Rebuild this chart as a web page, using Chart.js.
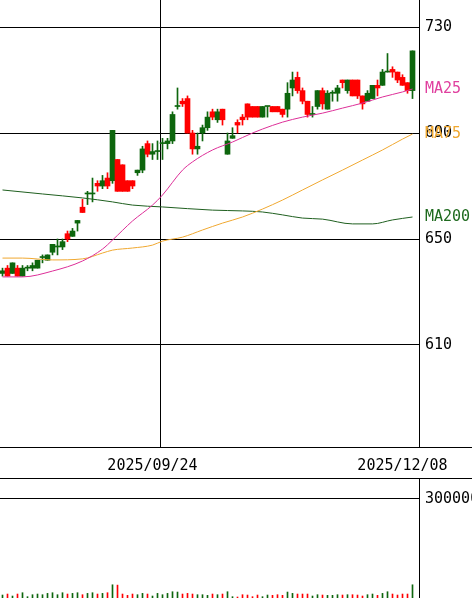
<!DOCTYPE html>
<html>
<head>
<meta charset="utf-8">
<script src="https://cdn.jsdelivr.net/npm/chart.js@4.4.1/dist/chart.umd.min.js"></script>
<style>
  body { margin: 0; background: #fff; }
  canvas { display: block; }
</style>
</head>
<body>
<canvas id="priceChart" width="472" height="479"></canvas>
<canvas id="volumeChart" width="472" height="119"></canvas>
<script>
// trading days shown on the daily chart
const dates = [
    "2025/08/08", "2025/08/12", "2025/08/13", "2025/08/14", "2025/08/15", "2025/08/18", "2025/08/19", "2025/08/20", "2025/08/21", "2025/08/22",
    "2025/08/25", "2025/08/26", "2025/08/27", "2025/08/28", "2025/08/29", "2025/09/01", "2025/09/02", "2025/09/03", "2025/09/04", "2025/09/05",
    "2025/09/08", "2025/09/09", "2025/09/10", "2025/09/11", "2025/09/12", "2025/09/16", "2025/09/17", "2025/09/18", "2025/09/19", "2025/09/22",
    "2025/09/24", "2025/09/25", "2025/09/26", "2025/09/29", "2025/09/30", "2025/10/01", "2025/10/02", "2025/10/03", "2025/10/06", "2025/10/07",
    "2025/10/08", "2025/10/09", "2025/10/10", "2025/10/14", "2025/10/15", "2025/10/16", "2025/10/17", "2025/10/20", "2025/10/21", "2025/10/22",
    "2025/10/23", "2025/10/24", "2025/10/27", "2025/10/28", "2025/10/29", "2025/10/30", "2025/10/31", "2025/11/04", "2025/11/05", "2025/11/06",
    "2025/11/07", "2025/11/10", "2025/11/11", "2025/11/12", "2025/11/13", "2025/11/14", "2025/11/17", "2025/11/18", "2025/11/19", "2025/11/20",
    "2025/11/21", "2025/11/25", "2025/11/26", "2025/11/27", "2025/11/28", "2025/12/01", "2025/12/02", "2025/12/03", "2025/12/04", "2025/12/05",
    "2025/12/08", "2025/12/09", "2025/12/10",
];

const opens = [
    637, 639, 637, 639, 636, 639, 639, 639, 643, 642,
    645, 647, 647, 652, 651, 656, 662, 667, 667, 671,
    670, 673, 672, 680, 678, 672, 672, 675, 676, 686,
    682, 683, 686, 686, 687, 700, 702, 703, 690, 684,
    690, 692, 698, 695, 699, 682, 688, 694, 696, 701,
    700, 700, 696, 700, 700, 700, 699, 699, 707, 711,
    706, 702, 697, 700, 706, 699, 705, 705, 710, 706,
    710, 710, 704, 702, 703, 708, 708, 713, 714, 713,
    711, 709, 706,
];
const highs = [
    639, 640, 641, 640, 640, 640, 641, 642, 644, 644,
    648, 650, 650, 653, 654, 657, 665, 668, 673, 672,
    674, 675, 691, 680, 678, 672, 672, 676, 685, 687,
    686, 687, 688, 688, 698, 707, 703, 704, 691, 690,
    693, 698, 699, 699, 699, 690, 692, 695, 697, 701,
    700, 700, 700, 700, 700, 700, 699, 709, 713, 713,
    707, 702, 700, 706, 707, 706, 706, 708, 710, 710,
    710, 710, 704, 706, 708, 710, 714, 720, 715, 713,
    712, 709, 721,
];
const lows = [
    636, 636, 637, 636, 636, 638, 638, 639, 641, 642,
    644, 644, 646, 649, 651, 653, 660, 663, 664, 668,
    669, 669, 671, 668, 668, 668, 669, 674, 675, 681,
    680, 680, 680, 684, 686, 699, 700, 690, 682, 682,
    687, 691, 695, 694, 693, 682, 688, 690, 693, 695,
    696, 696, 696, 696, 698, 698, 696, 696, 704, 705,
    701, 696, 696, 699, 699, 699, 702, 702, 707, 705,
    704, 703, 699, 702, 703, 704, 708, 713, 711, 709,
    708, 705, 703,
];
const closes = [
    638, 636, 641, 636, 639, 639, 640, 642, 643, 644,
    648, 647, 649, 650, 653, 657, 660, 667, 667, 670,
    672, 670, 691, 668, 668, 668, 670, 676, 684, 682,
    683, 683, 686, 687, 697, 700, 701, 690, 684, 685,
    692, 696, 696, 698, 695, 687, 689, 693, 695, 696,
    696, 696, 700, 700, 698, 698, 697, 705, 710, 706,
    702, 697, 697, 706, 701, 705, 705, 707, 709, 710,
    704, 704, 701, 705, 708, 707, 713, 713, 713, 710,
    708, 706, 721,
];
const volumes = [
    9000, 12000, 6000, 12000, 16000, 4000, 10000, 12000, 10000, 14000,
    16000, 10000, 16000, 12000, 14000, 16000, 10000, 14000, 16000, 12000,
    14000, 16000, 40000, 39000, 12000, 8000, 12000, 10000, 14000, 12000,
    6000, 14000, 10000, 14000, 19000, 18000, 12000, 14000, 12000, 10000,
    10000, 8000, 12000, 10000, 12000, 19000, 4000, 3000, 10000, 9000,
    4000, 9000, 4000, 9000, 8000, 10000, 8000, 18000, 14000, 12000,
    12000, 12000, 6000, 10000, 9000, 8000, 8000, 10000, 9000, 10000,
    10000, 9000, 6000, 10000, 12000, 8000, 14000, 19000, 12000, 9000,
    12000, 12000, 40000,
];

// moving averages, sampled at these day indexes
const ma25Days = [0, 4, 10, 16, 20, 22, 26, 30, 32, 36, 38, 42, 46, 50, 52, 56, 60, 64, 68, 72, 76, 80, 82];
const ma25 = [635.7, 635.7, 637.9, 641.7, 646.2, 649.6, 656.8, 662.8, 666.6, 676.0, 679.1, 683.6, 686.6, 690.0, 691.5, 694.1, 696.0, 697.5, 699.4, 701.3, 703.6, 705.5, 706.6];
const ma75Days = [0, 4, 10, 16, 20, 22, 26, 30, 32, 36, 40, 44, 48, 52, 56, 60, 64, 68, 72, 76, 80, 82];
const ma75 = [642.8, 642.8, 642.1, 642.5, 644.7, 645.8, 646.6, 647.7, 649.2, 650.7, 653.4, 656.0, 658.3, 661.3, 664.7, 668.5, 672.3, 676.0, 679.8, 683.6, 687.7, 689.6];
const ma200Days = [0, 8, 16, 22, 26, 32, 42, 48, 52, 56, 60, 64, 70, 74, 78, 82];
const ma200 = [668.5, 667.0, 665.5, 664.0, 662.8, 662.1, 660.9, 660.6, 660.2, 659.1, 657.9, 657.5, 655.7, 655.7, 657.2, 658.3];

const priceTicks = [610, 650, 690, 730];
const volumeTicks = [300000];
const dateTicks = ["2025/09/24", "2025/12/08"];

const UP = "#0d660d";
const DOWN = "#ff0000";
const FONT = { family: "'DejaVu Sans Mono', monospace", size: 15 };

const colors = closes.map((c, i) => (c >= opens[i] ? UP : DOWN));
const points = (days, vals) => days.map((d, i) => ({ x: d, y: vals[i] }));

// lines that split the panels
const panelLines = {
    id: "panelLines",
    beforeDatasetsDraw(chart, args, opts) {
        const { ctx, chartArea, scales } = chart;
        ctx.save();
        ctx.strokeStyle = "#000";
        ctx.lineWidth = 1;
        (opts.dividers || []).forEach(function (v) {
            const x = Math.round(scales.x.getPixelForValue(v)) + 0.5;
            ctx.beginPath();
            ctx.moveTo(x, chartArea.top);
            ctx.lineTo(x, chartArea.bottom);
            ctx.stroke();
        });
        ctx.restore();
    },
    afterDraw(chart, args, opts) {
        if (!opts.rules) return;
        const { ctx, chartArea, width, height } = chart;
        ctx.save();
        ctx.strokeStyle = "#000";
        ctx.lineWidth = 1;
        [chartArea.bottom + 0.5, height - 0.5].forEach(function (y) {
            ctx.beginPath();
            ctx.moveTo(0, y);
            ctx.lineTo(width, y);
            ctx.stroke();
        });
        ctx.restore();
    },
};

// MA names written at the last value of each line
const maLabels = {
    id: "maLabels",
    afterDatasetsDraw(chart, args, opts) {
        const { ctx, chartArea, scales } = chart;
        ctx.save();
        ctx.font = FONT.size + "px " + FONT.family;
        ctx.textAlign = "left";
        ctx.textBaseline = "middle";
        (opts.items || []).forEach(function (it) {
            ctx.fillStyle = it.color;
            ctx.fillText(it.text, chartArea.right + 6, scales.y.getPixelForValue(it.value));
        });
        ctx.restore();
    },
};

function noPadding(axis) {
    axis.paddingTop = 0;
    axis.paddingBottom = 0;
    axis.paddingLeft = 0;
    axis.paddingRight = 0;
}

const xAxis = {
    type: "linear",
    min: -0.5,
    max: 83.3,
    offset: false,
};

new Chart(document.getElementById("priceChart"), {
    type: "bar",
    data: {
        datasets: [
            {
                type: "line",
                label: "MA25",
                data: points(ma25Days, ma25),
                borderColor: "#dd2f98",
                borderWidth: 1,
                pointRadius: 0,
                cubicInterpolationMode: "monotone",
                order: -3,
            },
            {
                type: "line",
                label: "MA75",
                data: points(ma75Days, ma75),
                borderColor: "#f0a830",
                borderWidth: 1,
                pointRadius: 0,
                cubicInterpolationMode: "monotone",
                order: -2,
            },
            {
                type: "line",
                label: "MA200",
                data: points(ma200Days, ma200),
                borderColor: "#1f5f1f",
                borderWidth: 1,
                pointRadius: 0,
                cubicInterpolationMode: "monotone",
                order: -1,
            },
            {
                label: "body",
                data: dates.map((d, i) => ({ x: i, y: [opens[i], closes[i]] })),
                backgroundColor: colors,
                barThickness: 5,
                minBarLength: 1,
                grouped: false,
                order: 0,
            },
            {
                label: "wick",
                data: dates.map((d, i) => ({ x: i, y: [lows[i], highs[i]] })),
                backgroundColor: colors,
                barThickness: 1,
                grouped: false,
                order: 1,
            },
        ],
    },
    options: {
        responsive: false,
        animation: false,
        events: [],
        layout: { padding: 0 },
        plugins: {
            legend: { display: false },
            tooltip: { enabled: false },
            panelLines: { dividers: [31.5], rules: true },
            maLabels: {
                items: [
                    { text: "MA25", value: ma25[ma25.length - 1], color: "#e0409f" },
                    { text: "MA75", value: ma75[ma75.length - 1], color: "#f0a830" },
                    { text: "MA200", value: ma200[ma200.length - 1], color: "#1f6a1f" },
                ],
            },
        },
        scales: {
            x: {
                ...xAxis,
                grid: { display: false },
                border: { display: false },
                afterBuildTicks: (axis) => {
                    axis.ticks = dateTicks.map((d) => ({ value: dates.indexOf(d) }));
                },
                afterFit: (axis) => {
                    axis.height = 32;
                    noPadding(axis);
                },
                ticks: {
                    autoSkip: false,
                    maxRotation: 0,
                    padding: 2,
                    color: "#000",
                    font: FONT,
                    callback: (v) => dates[v],
                },
            },
            y: {
                position: "right",
                min: 571.5,
                max: 740.2,
                afterBuildTicks: (axis) => {
                    axis.ticks = priceTicks.map((v) => ({ value: v }));
                },
                afterFit: (axis) => {
                    axis.width = 53;
                    noPadding(axis);
                },
                grid: { color: "#000", lineWidth: 1, drawTicks: false },
                border: { display: true, color: "#000" },
                ticks: { padding: 6, color: "#000", font: FONT },
            },
        },
    },
    plugins: [panelLines, maLabels],
});

new Chart(document.getElementById("volumeChart"), {
    type: "bar",
    data: {
        datasets: [
            {
                label: "出来高",
                data: volumes.map((v, i) => ({ x: i, y: v })),
                backgroundColor: colors,
                barThickness: 1,
            },
        ],
    },
    options: {
        responsive: false,
        animation: false,
        events: [],
        layout: { padding: 0 },
        plugins: {
            legend: { display: false },
            tooltip: { enabled: false },
        },
        scales: {
            x: { ...xAxis, display: false },
            y: {
                position: "right",
                min: 0,
                max: 360000,
                afterBuildTicks: (axis) => {
                    axis.ticks = volumeTicks.map((v) => ({ value: v }));
                },
                afterFit: (axis) => {
                    axis.width = 53;
                    noPadding(axis);
                },
                grid: { color: "#000", lineWidth: 1, drawTicks: false },
                border: { display: true, color: "#000" },
                ticks: { padding: 6, color: "#000", font: FONT, callback: (v) => String(v) },
            },
        },
    },
});
</script>
</body>
</html>
